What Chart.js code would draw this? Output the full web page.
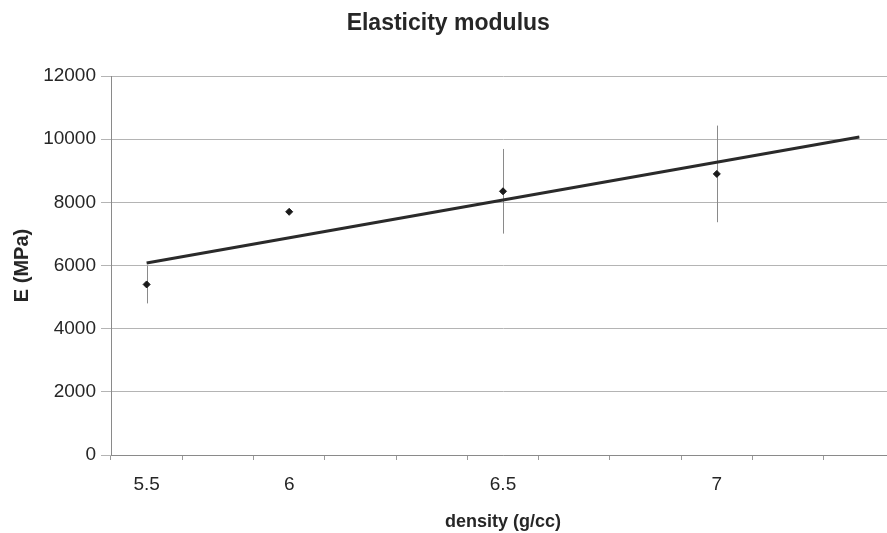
<!DOCTYPE html>
<html lang="en">
<head>
    <meta charset="UTF-8">
    <title>Elasticity modulus</title>
    <script src="https://cdn.jsdelivr.net/npm/chart.js@4"></script>
    <style>
        html, body {
            margin: 0;
            padding: 0;
            background: #fff;
            overflow: hidden;
        }
        .chart-container {
            width: 900px;
            height: 533px;
        }
    </style>
</head>
<body>
    <div class="chart-container">
        <canvas id="myChart"></canvas>
    </div>

    <script>
        // data
        const densityLabels = ['5.5', '', '6', '', '', '6.5', '', '', '7', '', ''];
        const modulusE = [5400, null, 7700, null, null, 8350, null, null, 8900, null, null];
        const errorE = [600, null, 0, null, null, 1340, null, null, 1530, null, null];
        const trendE = [6080, null, null, null, null, null, null, null, null, null, 10070];
        const yTicks = [0, 2000, 4000, 6000, 8000, 10000, 12000];

        const textColor = '#262626';

        // vertical error bars, drawn through the chart scales
        const errorBars = {
            id: 'errorBars',
            beforeDatasetsDraw(chart) {
                const x = chart.scales.x;
                const y = chart.scales.y;
                const ctx = chart.ctx;
                ctx.save();
                ctx.strokeStyle = '#8a8a8a';
                ctx.lineWidth = 1;
                modulusE.forEach(function(v, i) {
                    const e = errorE[i];
                    if (v === null || !e) return;
                    const px = Math.round(x.getPixelForValue(i)) + 0.5;
                    ctx.beginPath();
                    ctx.moveTo(px, y.getPixelForValue(v - e));
                    ctx.lineTo(px, y.getPixelForValue(v + e));
                    ctx.stroke();
                });
                ctx.restore();
            }
        };

        Chart.defaults.font.family = '"Liberation Sans", Arial, sans-serif';
        Chart.defaults.color = textColor;

        const ctx = document.getElementById('myChart').getContext('2d');
        new Chart(ctx, {
            type: 'line',
            data: {
                labels: densityLabels,
                datasets: [
                    {
                        label: 'E',
                        data: modulusE,
                        showLine: false,
                        pointStyle: 'rectRot',
                        pointRadius: 3.5,
                        pointBackgroundColor: '#1a1a1a',
                        pointBorderColor: '#1a1a1a',
                        pointBorderWidth: 1
                    },
                    {
                        label: 'trend',
                        data: trendE,
                        spanGaps: true,
                        borderColor: '#2a2a2a',
                        borderWidth: 3,
                        pointRadius: 0,
                        fill: false,
                        tension: 0
                    }
                ]
            },
            options: {
                responsive: true,
                maintainAspectRatio: false,
                animation: false,
                layout: {
                    padding: { left: 0, right: 3.5, top: 0, bottom: 0 }
                },
                plugins: {
                    legend: { display: false },
                    tooltip: { enabled: false },
                    title: {
                        display: true,
                        text: 'Elasticity modulus',
                        color: textColor,
                        font: { size: 23, weight: 'bold' },
                        padding: { top: 10, bottom: 38.4 }
                    }
                },
                scales: {
                    x: {
                        type: 'category',
                        offset: true,
                        grid: {
                            offset: true,
                            drawOnChartArea: false,
                            drawTicks: true,
                            tickLength: 5,
                            color: '#9a9a9a'
                        },
                        border: { display: true, color: '#8a8a8a', width: 1 },
                        ticks: {
                            autoSkip: false,
                            maxRotation: 0,
                            padding: 13,
                            font: { size: 19 }
                        },
                        title: {
                            display: true,
                            text: 'density (g/cc)',
                            font: { size: 18, weight: 'bold' },
                            padding: { top: 8, bottom: 0 }
                        },
                        afterFit: function(scale) {
                            scale.height = 78;
                        }
                    },
                    y: {
                        min: 0,
                        max: 12000,
                        afterBuildTicks: function(scale) {
                            scale.ticks = yTicks.map(v => ({ value: v }));
                        },
                        grid: {
                            color: '#b4b4b4',
                            tickLength: 10
                        },
                        border: { display: true, color: '#8a8a8a', width: 1 },
                        ticks: {
                            padding: 5,
                            font: { size: 19 },
                            callback: function(value) {
                                return String(value);
                            }
                        },
                        title: {
                            display: true,
                            text: 'E (MPa)',
                            font: { size: 20, weight: 'bold' },
                            padding: { top: 10, bottom: 4 }
                        },
                        afterFit: function(scale) {
                            scale.width = 111;
                        }
                    }
                }
            },
            plugins: [errorBars]
        });
    </script>
</body>
</html>
